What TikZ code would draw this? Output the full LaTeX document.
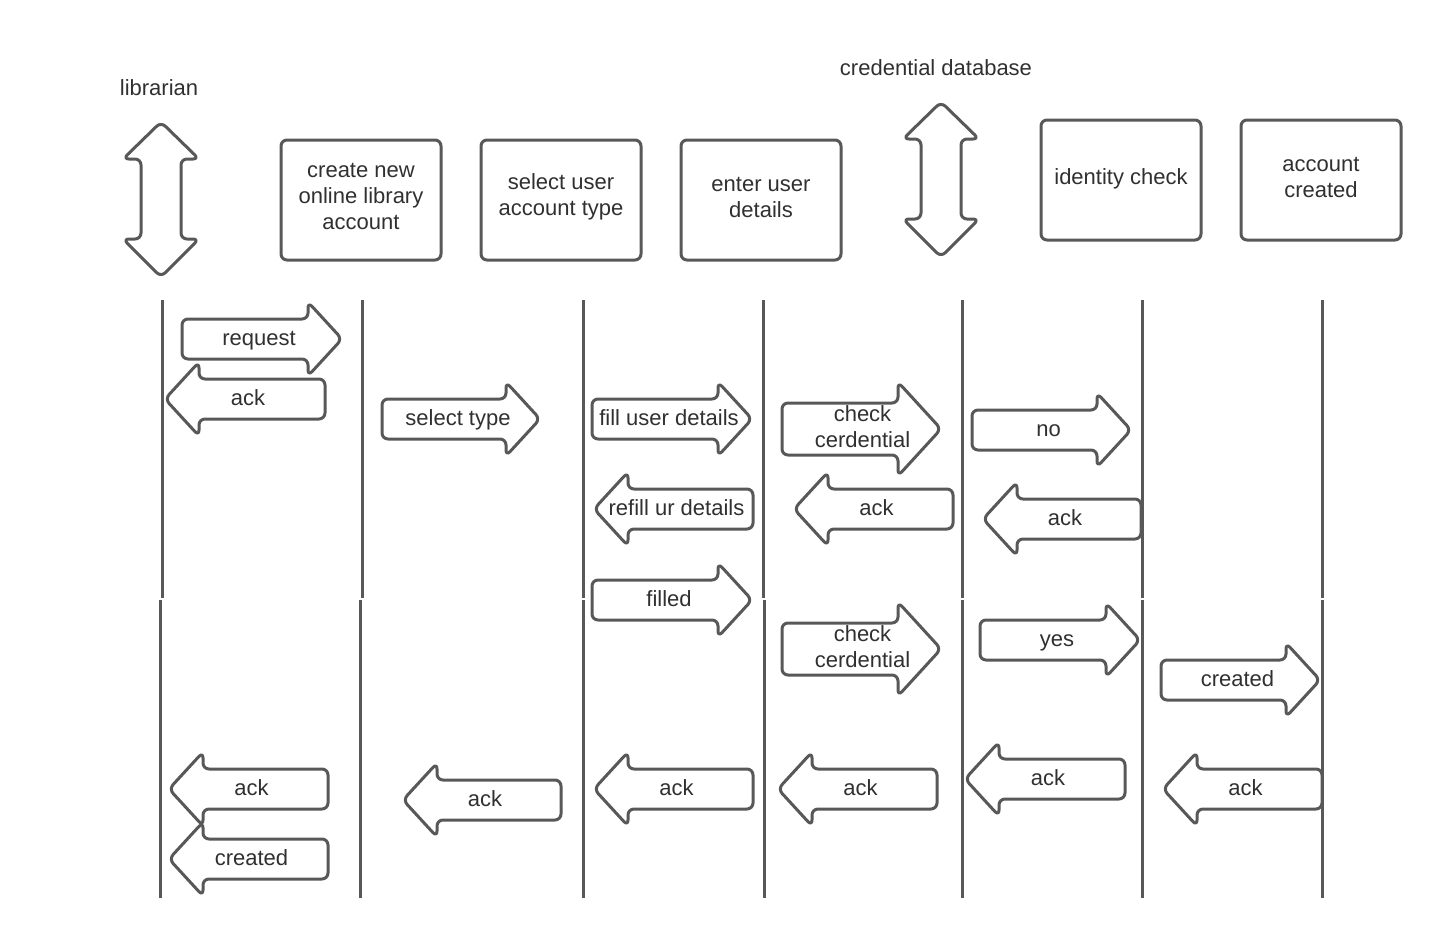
\documentclass[tikz,border=0pt]{standalone}
\usepackage{fontspec}
\setmainfont{Liberation Sans}
\begin{document}
\definecolor{ink}{RGB}{88,88,88}
\definecolor{txt}{RGB}{48,48,48}
% pixel-like units, y pointing down
\begin{tikzpicture}[x=1pt,y=-1pt,
  font=\fontsize{22}{26}\selectfont,
  every node/.style={text=txt},
  blockline/.style={draw=ink,line width=3pt,fill=white,rounded corners=6pt,line join=round},
  lifeline/.style={draw=ink,line width=3pt},
  msg/.style={anchor=base,inner sep=0pt},
  stepbox/.style={draw=ink,line width=3pt,rounded corners=6pt,minimum width=160pt,minimum height=120pt},
  steptext/.style={align=center,inner sep=0pt},
  title/.style={anchor=base,inner sep=0pt}]
\useasboundingbox (0,0) rectangle (1442,940);

% block arrow pointing right: name, tail x, tip x, centre y, label
\newcommand\rightblock[5]{%
  \draw[blockline] (#2,#4-20) -- (#3-34,#4-20) -- (#3-34,#4-37) -- (#3,#4)
    -- (#3-34,#4+37) -- (#3-34,#4+20) -- (#2,#4+20) -- cycle;
  \node[msg] (#1) at ({(#2+#3)/2-3},{#4+6}) {#5};}
% block arrow pointing left: name, tip x, tail x, centre y, label
\newcommand\leftblock[5]{%
  \draw[blockline] (#2,#4) -- (#2+34,#4-37) -- (#2+34,#4-20) -- (#3,#4-20)
    -- (#3,#4+20) -- (#2+34,#4+20) -- (#2+34,#4+37) -- cycle;
  \node[msg] (#1) at ({(#2+#3)/2+3},{#4+6}) {#5};}
% wider right block arrow with a two-line label (base = last line)
\newcommand\bigrightblock[5]{%
  \draw[blockline] (#2,#4-26) -- (#3-43,#4-26) -- (#3-43,#4-47) -- (#3,#4)
    -- (#3-43,#4+47) -- (#3-43,#4+26) -- (#2,#4+26) -- cycle;
  \node[msg,align=center] (#1) at ({(#2+#3)/2+1},{#4+18}) {#5};}
% vertical double arrow: centre x, top tip y, bottom tip y
\newcommand\updown[3]{%
  \draw[blockline] (#1,#2) -- (#1+38,#2+37) -- (#1+20,#2+37) -- (#1+20,#3-38)
    -- (#1+38,#3-38) -- (#1,#3) -- (#1-38,#3-38) -- (#1-20,#3-38)
    -- (#1-20,#2+37) -- (#1-38,#2+37) -- cycle;}

% actors
\node[title] (librarian) at (159,95) {librarian};
\updown{161}{122}{277}
\node[title] (creddb) at (936,75) {credential database};
\updown{941}{102}{257}

% steps
\node[stepbox] (create) at (361,200) {};
\node[steptext] (createT) at (361,196) {create new\\online library\\account};
\node[stepbox] (select) at (561,200) {};
\node[steptext] (selectT) at (561,197) {select user\\account type};
\node[stepbox] (enter) at (761,200) {};
\node[steptext] (enterT) at (761,197) {enter user\\details};
\node[stepbox] (ident) at (1121,180) {};
\node[steptext] (identT) at (1121,179) {identity check};
\node[stepbox] (created) at (1321,180) {};
\node[steptext] (createdT) at (1321,177) {account\\created};

% lifelines, upper and lower parts
\foreach \n/\xa/\xb in {1/162/160, 2/362/360, 3/583/583, 4/763/764, 5/962/962, 6/1142/1142, 7/1322/1322}{
  \coordinate (u\n a) at (\xa,300);
  \coordinate (u\n b) at (\xa,598);
  \coordinate (d\n a) at (\xb,600);
  \coordinate (d\n b) at (\xb,898);
  \draw[lifeline] (u\n a) -- (u\n b);
  \draw[lifeline] (d\n a) -- (d\n b);
}

% messages
\rightblock{request}{182}{342}{339}{request}
\leftblock{ackA}{165}{325}{399}{ack}
\rightblock{seltype}{382}{540}{419}{select type}
\rightblock{fill}{592}{752}{419}{fill user details}
\bigrightblock{checkA}{782}{941}{429}{check\\cerdential}
\rightblock{no}{972}{1131}{430}{no}
\leftblock{refill}{594}{753}{509}{refill ur details}
\leftblock{ackB}{794}{953}{509}{ack}
\leftblock{ackC}{983}{1141}{519}{ack}
\rightblock{filled}{592}{752}{600}{filled}
\bigrightblock{checkB}{782}{941}{649}{check\\cerdential}
\rightblock{yes}{980}{1140}{640}{yes}
\rightblock{createdR}{1161}{1320}{680}{created}
\leftblock{ackD}{169}{328}{789}{ack}
\leftblock{createdL}{169}{328}{859}{created}
\leftblock{ackE}{403}{561}{800}{ack}
\leftblock{ackF}{594}{753}{789}{ack}
\leftblock{ackG}{778}{937}{789}{ack}
\leftblock{ackH}{965}{1125}{779}{ack}
\leftblock{ackI}{1163}{1322}{789}{ack}
\end{tikzpicture}
\end{document}
